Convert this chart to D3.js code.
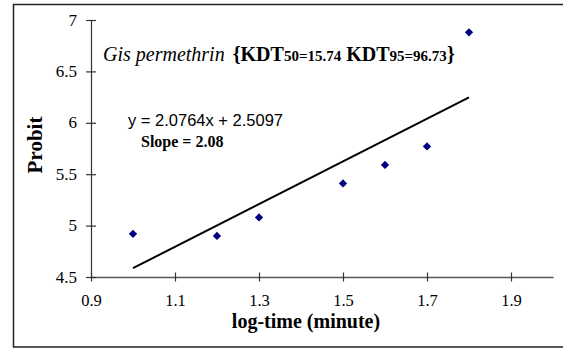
<!DOCTYPE html>
<html>
<head>
<meta charset="utf-8">
<script src="https://cdn.jsdelivr.net/npm/d3@7"></script>
<style>
  html, body { margin: 0; padding: 0; background: #fff; }
  svg { display: block; }
</style>
</head>
<body>
<svg id="chart" width="563" height="349"></svg>
<script>
// Probit vs log-time observations
const logTime = [1.0, 1.2, 1.3, 1.5, 1.6, 1.7, 1.8];
const probit  = [4.92, 4.90, 5.08, 5.41, 5.59, 5.77, 6.88];

// Linear fit y = slope * x + intercept
const slope = 2.0764;
const intercept = 2.5097;
const fitRange = [1.0, 1.8];

const xTicks = [0.9, 1.1, 1.3, 1.5, 1.7, 1.9];
const yTicks = [4.5, 5, 5.5, 6, 6.5, 7];

const svg = d3.select("#chart");
const serif = "'Liberation Serif', 'Times New Roman', serif";
const sans = "'Liberation Sans', Arial, sans-serif";

// outer frame
svg.append("rect")
  .attr("x", 13.5).attr("y", 4.5)
  .attr("width", 600).attr("height", 342.5)
  .attr("fill", "none").attr("stroke", "#222").attr("stroke-width", 1.5);

const x = d3.scaleLinear().domain([0.9, 2.0]).range([91, 553]);
const y = d3.scaleLinear().domain([4.5, 7]).range([277, 20]);

// x axis
const gx = svg.append("g").attr("transform", `translate(0,${y(4.5)})`);
gx.call(d3.axisBottom(x).tickValues(xTicks).tickSize(0).tickFormat(d3.format(".1f")));
gx.select(".domain").attr("stroke", "#555").attr("stroke-width", 1.5);
gx.selectAll(".tick line").remove();
gx.selectAll(".tick").append("line")
  .attr("y1", -4.5).attr("y2", 4.5).attr("stroke", "#333").attr("stroke-width", 1.2);
gx.selectAll(".tick text")
  .attr("y", 29).attr("dy", 0)
  .attr("font-family", serif).attr("font-size", 16.5).attr("fill", "#000");

// y axis
const gy = svg.append("g").attr("transform", `translate(${x(0.9)},0)`);
gy.call(d3.axisLeft(y).tickValues(yTicks).tickSize(0).tickFormat(d => String(d)));
gy.select(".domain").attr("stroke", "#333").attr("stroke-width", 1.2);
gy.selectAll(".tick line").remove();
gy.selectAll(".tick").append("line")
  .attr("x1", -5).attr("x2", 5).attr("stroke", "#333").attr("stroke-width", 1.2);
gy.selectAll(".tick text")
  .attr("x", -14).attr("dy", "0.3em")
  .attr("font-family", serif).attr("font-size", 17).attr("fill", "#000");

// regression line
svg.append("line")
  .attr("x1", x(fitRange[0])).attr("y1", y(slope * fitRange[0] + intercept))
  .attr("x2", x(fitRange[1])).attr("y2", y(slope * fitRange[1] + intercept))
  .attr("stroke", "#000").attr("stroke-width", 2);

// observation markers (diamonds)
svg.append("g").selectAll("path")
  .data(logTime.map((t, i) => [t, probit[i]]))
  .join("path")
  .attr("transform", d => `translate(${x(d[0])},${y(d[1])})`)
  .attr("d", d3.symbol(d3.symbolDiamond2, 44)())
  .attr("fill", "#000080");

// axis titles
svg.append("text")
  .attr("x", 306).attr("y", 328)
  .attr("text-anchor", "middle")
  .attr("font-family", serif).attr("font-weight", "bold").attr("font-size", 20)
  .text("log-time (minute)");

svg.append("text")
  .attr("transform", "translate(42,145) rotate(-90)")
  .attr("text-anchor", "middle")
  .attr("font-family", serif).attr("font-weight", "bold").attr("font-size", 21)
  .text("Probit");

// title with knockdown times
const title = svg.append("text")
  .attr("x", 103).attr("y", 61)
  .attr("font-family", serif).attr("font-size", 20);
title.append("tspan").attr("font-style", "italic").text("Gis permethrin");
title.append("tspan").attr("font-weight", "bold").attr("dx", 8).text("{KDT");
title.append("tspan").attr("font-weight", "bold").attr("font-size", 15).text("50=15.74");
title.append("tspan").attr("font-weight", "bold").text(" KDT");
title.append("tspan").attr("font-weight", "bold").attr("font-size", 15).text("95=96.73");
title.append("tspan").attr("font-weight", "bold").text("}");

// equation and slope
svg.append("text")
  .attr("x", 128).attr("y", 126)
  .attr("font-family", sans).attr("font-size", 16.5)
  .text(`y = ${slope}x + ${intercept}`);

svg.append("text")
  .attr("x", 141).attr("y", 147)
  .attr("font-family", serif).attr("font-weight", "bold").attr("font-size", 16)
  .text("Slope = " + slope.toFixed(2));
</script>
</body>
</html>
